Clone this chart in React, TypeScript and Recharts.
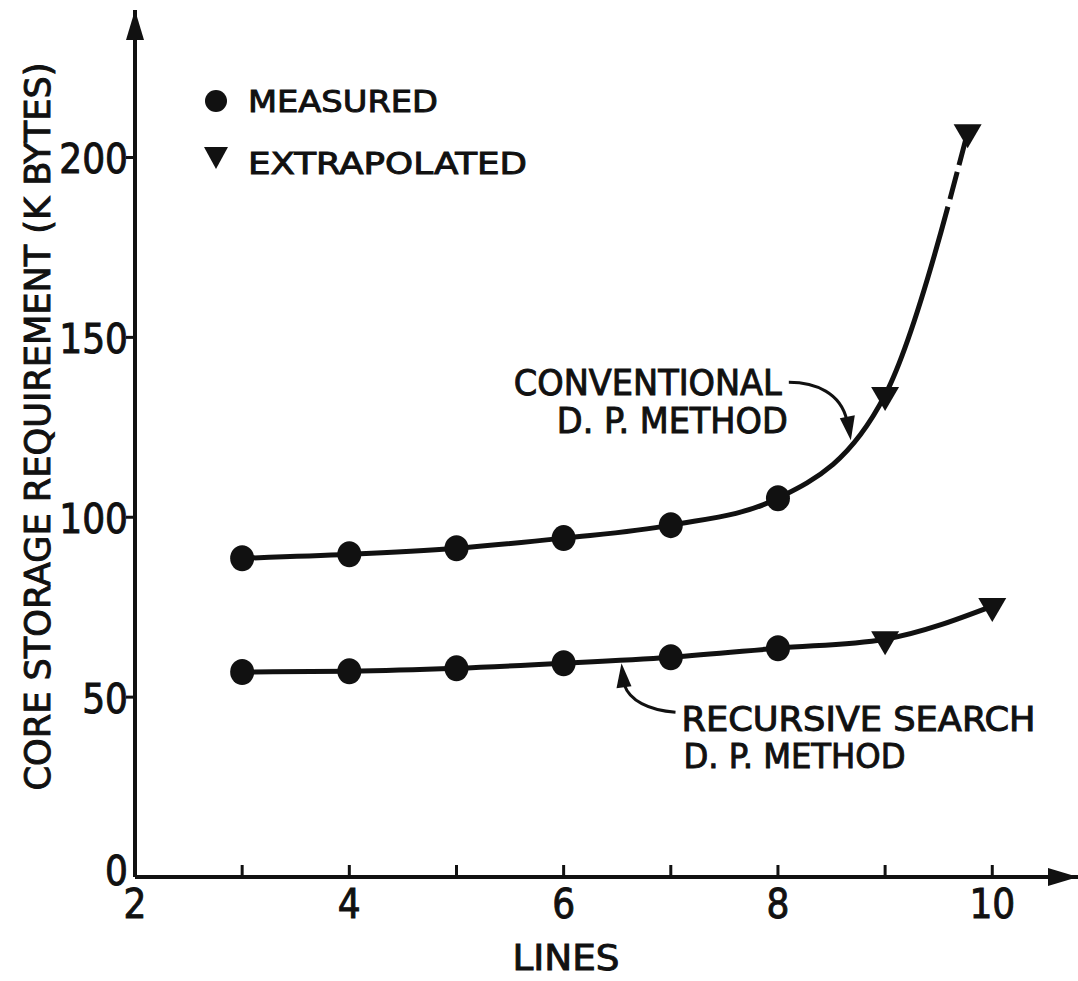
import React, { useEffect, useState } from 'react';
import { LineChart, Line, XAxis, YAxis, ReferenceDot, Legend, Label } from 'recharts';

// conventional D.P. method
const convLines = [3, 4, 5, 6, 7, 8, 9, 9.77];
const convStorage = [88.6, 89.7, 91.4, 94.2, 97.8, 105.3, 134, 207];
const convKind = ['measured', 'measured', 'measured', 'measured', 'measured', 'measured', 'extrapolated', 'extrapolated'];

// recursive search D.P. method
const recLines = [3, 4, 5, 6, 7, 8, 9, 10];
const recStorage = [57, 57.2, 58, 59.4, 61.1, 63.6, 66.1, 75.3];
const recKind = ['measured', 'measured', 'measured', 'measured', 'measured', 'measured', 'extrapolated', 'extrapolated'];

const xTicks = [2, 3, 4, 5, 6, 7, 8, 9, 10];
const xLabelled = [2, 4, 6, 8, 10];
const yTicks = [0, 50, 100, 150, 200];

const FONT = "'DejaVu Sans Condensed', 'Liberation Sans Narrow', 'DejaVu Sans', sans-serif";
const INK = '#111';
// a thin outline makes the lettering look like the pen-drawn original
const PEN = { fill: INK, stroke: INK, strokeWidth: 0.9, fontFamily: FONT };

const convData = convLines.map((x, i) => ({ x, y: convStorage[i], kind: convKind[i] }));
const recData = recLines.map((x, i) => ({ x, y: recStorage[i], kind: recKind[i] }));

const renderDot = (props: any) => {
  const { cx, cy, payload, index } = props;
  if (cx == null || cy == null) return <g key={index} />;
  if (payload.kind === 'measured') {
    return <ellipse key={index} cx={cx} cy={cy} rx={12} ry={13} fill={INK} />;
  }
  // down-pointing triangle, centroid on the point
  return (
    <polygon
      key={index}
      points={`${cx - 14},${cy - 8} ${cx + 14},${cy - 8} ${cx},${cy + 16}`}
      fill={INK}
    />
  );
};

const XTick = (props: any) => {
  const { x, y, payload } = props;
  const v = payload.value;
  return (
    <g>
      {v !== 2 && <line x1={x} x2={x} y1={y} y2={y - 12} stroke={INK} strokeWidth={3} />}
      {xLabelled.includes(v) && (
        <text x={x} y={y + 41} textAnchor="middle" fontSize={40} {...PEN}>
          {v}
        </text>
      )}
    </g>
  );
};

const YTick = (props: any) => {
  const { x, y, payload } = props;
  const v = payload.value;
  return (
    <g>
      {v !== 0 && <line x1={x - 9} x2={x} y1={y} y2={y} stroke={INK} strokeWidth={3} />}
      <text x={x - 7} y={v === 0 ? y + 8 : y + 16} textAnchor="end" fontSize={40} {...PEN}>
        {v}
      </text>
    </g>
  );
};

const UpArrow = (props: any) => {
  const { cx, cy } = props;
  return <polygon points={`${cx},${cy} ${cx - 9},${cy + 30} ${cx + 9},${cy + 30}`} fill={INK} />;
};

const RightArrow = (props: any) => {
  const { cx, cy } = props;
  return <polygon points={`${cx},${cy} ${cx - 30},${cy - 9} ${cx - 30},${cy + 9}`} fill={INK} />;
};

const ConvNote = (props: any) => {
  const { cx, cy } = props;
  return (
    <g>
      <path
        d={`M ${cx - 62} ${cy - 58} C ${cx - 35} ${cy - 58}, ${cx - 10} ${cy - 47}, ${cx - 4} ${cy - 20}`}
        fill="none"
        stroke={INK}
        strokeWidth={3}
      />
      <polygon points={`${cx},${cy} ${cx + 4},${cy - 25} ${cx - 11},${cy - 22}`} fill={INK} />
      <text x={cx - 337} y={cy - 45} fontSize={35} {...PEN} textLength={268} lengthAdjust="spacingAndGlyphs">
        CONVENTIONAL
      </text>
      <text x={cx - 294} y={cy - 7} fontSize={35} {...PEN} textLength={231} lengthAdjust="spacingAndGlyphs">
        D. P. METHOD
      </text>
    </g>
  );
};

const RecNote = (props: any) => {
  const { cx, cy } = props;
  return (
    <g>
      <path
        d={`M ${cx + 54} ${cy + 49} C ${cx + 27} ${cy + 47}, ${cx + 8} ${cy + 37}, ${cx + 3} ${cy + 22}`}
        fill="none"
        stroke={INK}
        strokeWidth={3}
      />
      <polygon points={`${cx},${cy} ${cx + 10},${cy + 23} ${cx - 5},${cy + 25}`} fill={INK} />
      <text x={cx + 60} y={cy + 68} fontSize={33} {...PEN} textLength={354} lengthAdjust="spacingAndGlyphs">
        RECURSIVE SEARCH
      </text>
      <text x={cx + 62} y={cy + 105} fontSize={33} {...PEN} textLength={222} lengthAdjust="spacingAndGlyphs">
        D. P. METHOD
      </text>
    </g>
  );
};

const LegendContent = () => (
  <svg width={360} height={110}>
    <circle cx={13} cy={20} r={11} fill={INK} />
    <text x={45} y={31} fontSize={31} {...PEN} textLength={190} lengthAdjust="spacingAndGlyphs">
      MEASURED
    </text>
    <polygon points={`1,66 25,66 13,88`} fill={INK} />
    <text x={45} y={93} fontSize={31} {...PEN} textLength={279} lengthAdjust="spacingAndGlyphs">
      EXTRAPOLATED
    </text>
  </svg>
);

export default function App() {
  // solid curve that turns dashed on its last stretch
  const [dash, setDash] = useState('880 8 28 7 100');

  useEffect(() => {
    let tries = 0;
    let timer: any;
    const measure = () => {
      let path = document.querySelector('.conv-line .recharts-line-curve') as SVGPathElement | null;
      if (!path) path = document.querySelector('.recharts-line-curve') as SVGPathElement | null;
      if (path && path.getTotalLength) {
        const len = path.getTotalLength();
        setDash(`${Math.max(0, len - 77)} 8 28 7 100`);
      } else if (tries++ < 40) {
        timer = setTimeout(measure, 25);
      }
    };
    measure();
    return () => clearTimeout(timer);
  }, []);

  return (
    <div style={{ position: 'absolute', left: 0, top: 0, background: '#fff' }}>
      <LineChart width={1078} height={981} margin={{ top: 10, right: 0, left: 0, bottom: 0 }}>
        <XAxis
          type="number"
          dataKey="x"
          domain={[2, 10.8]}
          allowDataOverflow
          ticks={xTicks}
          interval={0}
          height={104}
          tickSize={0}
          tickMargin={0}
          tick={<XTick />}
          tickLine={false}
          axisLine={{ stroke: INK, strokeWidth: 4 }}
        >
          <Label
            content={(p: any) => (
              <text
                x={p.viewBox.x + 431}
                y={p.viewBox.y + 93}
                textAnchor="middle"
                fontSize={35}
                {...PEN}
                textLength={107}
                lengthAdjust="spacingAndGlyphs"
              >
                LINES
              </text>
            )}
          />
        </XAxis>
        <YAxis
          type="number"
          domain={[0, 241]}
          allowDataOverflow
          ticks={yTicks}
          interval={0}
          width={135}
          tickSize={0}
          tickMargin={0}
          tick={<YTick />}
          tickLine={false}
          axisLine={{ stroke: INK, strokeWidth: 4 }}
        >
          <Label
            content={(p: any) => {
              const x = p.viewBox.x + p.viewBox.width - 85;
              const y = p.viewBox.y + p.viewBox.height / 2 - 17;
              return (
                <text
                  x={x}
                  y={y}
                  transform={`rotate(-90 ${x} ${y})`}
                  textAnchor="middle"
                  fontSize={36}
                  {...PEN}
                  textLength={728}
                  lengthAdjust="spacingAndGlyphs"
                >
                  CORE STORAGE REQUIREMENT (K BYTES)
                </text>
              );
            }}
          />
        </YAxis>
        <Legend
          verticalAlign="middle"
          layout="horizontal"
          content={<LegendContent />}
          wrapperStyle={{ left: 203, top: 81, width: 360, height: 110 }}
        />
        <Line
          className="conv-line"
          data={convData}
          dataKey="y"
          type="monotone"
          stroke={INK}
          strokeWidth={5}
          strokeDasharray={dash}
          dot={renderDot}
          activeDot={false}
          isAnimationActive={false}
        />
        <Line
          data={recData}
          dataKey="y"
          type="monotone"
          stroke={INK}
          strokeWidth={5}
          dot={renderDot}
          activeDot={false}
          isAnimationActive={false}
        />
        <ReferenceDot x={2} y={241} ifOverflow="visible" shape={<UpArrow />} />
        <ReferenceDot x={10.8} y={0} ifOverflow="visible" shape={<RightArrow />} />
        <ReferenceDot x={8.68} y={121.4} ifOverflow="visible" shape={<ConvNote />} />
        <ReferenceDot x={6.54} y={59.4} ifOverflow="visible" shape={<RecNote />} />
      </LineChart>
    </div>
  );
}
